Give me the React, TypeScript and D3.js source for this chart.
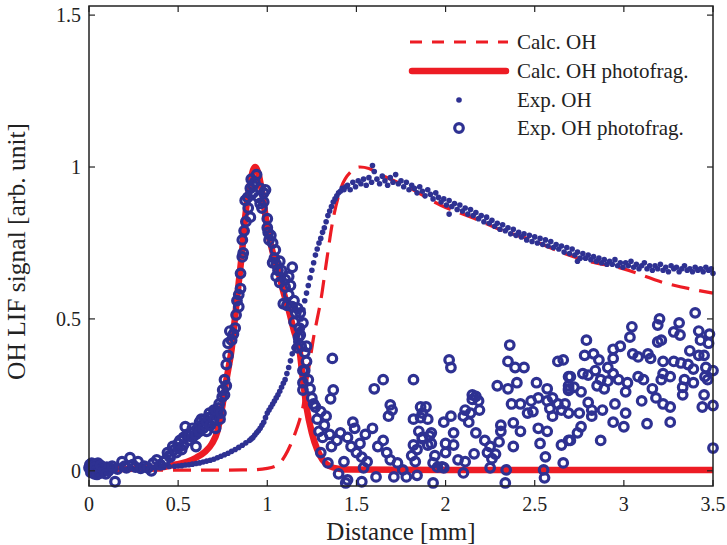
import React from "react";
import * as d3 from "d3";

const xTicks = [0, 0.5, 1, 1.5, 2, 2.5, 3, 3.5];
const yTicks = [0, 0.5, 1, 1.5];
const xDomain = [0, 3.5];
const yDomain = [-0.05, 1.53];

const legendLabels = ["Calc. OH", "Calc. OH photofrag.", "Exp. OH", "Exp. OH photofrag."];
const xLabel = "Distance [mm]";
const yLabel = "OH LIF signal [arb. unit]";

// Calc. OH (dashed)
const calcOH: [number, number][] = [
  [0, 0.002], [0.5, 0.002], [0.9, 0.003], [1.0, 0.008], [1.06, 0.02], [1.1, 0.05], [1.13, 0.085],
  [1.157, 0.125], [1.18, 0.165], [1.2, 0.21], [1.22, 0.29], [1.24, 0.365], [1.26, 0.44], [1.28, 0.5],
  [1.3, 0.56], [1.33, 0.68], [1.365, 0.815], [1.41, 0.925], [1.47, 0.985], [1.52, 1.0], [1.57, 0.995],
  [1.635, 0.975], [1.785, 0.935], [1.97, 0.875], [2.18, 0.826], [2.3, 0.795], [2.48, 0.76], [2.66, 0.717],
  [2.8, 0.69], [2.98, 0.668], [3.22, 0.62], [3.5, 0.585],
];

// Calc. OH photofrag. (solid)
const calcPhoto: [number, number][] = [
  [0, 0.004], [0.1, 0.005], [0.2, 0.006], [0.3, 0.008], [0.4, 0.011], [0.48, 0.02], [0.55, 0.03],
  [0.6, 0.043], [0.65, 0.062], [0.69, 0.09], [0.72, 0.13], [0.735, 0.17], [0.75, 0.22], [0.765, 0.28],
  [0.78, 0.33], [0.8, 0.4], [0.82, 0.51], [0.84, 0.62], [0.86, 0.73], [0.876, 0.835], [0.89, 0.9],
  [0.905, 0.95], [0.92, 0.99], [0.933, 1.0], [0.95, 0.98], [0.97, 0.92], [1.0, 0.8], [1.03, 0.72],
  [1.06, 0.66], [1.09, 0.59], [1.12, 0.53], [1.15, 0.46], [1.18, 0.4], [1.2, 0.3], [1.22, 0.21],
  [1.25, 0.125], [1.28, 0.07], [1.31, 0.036], [1.35, 0.015], [1.4, 0.007], [1.47, 0.004], [2.0, 0.003],
  [3.5, 0.003],
];

// Exp. OH (dots)
const expOH: [number, number][] = [
  [0.0, 0.005], [0.03, 0.002], [0.06, 0.006], [0.09, 0.004], [0.12, 0.007], [0.15, 0.005], [0.18, 0.008],
  [0.21, 0.006], [0.24, 0.009], [0.27, 0.008], [0.3, 0.01], [0.33, 0.009], [0.36, 0.011], [0.39, 0.012],
  [0.42, 0.012], [0.45, 0.014], [0.48, 0.015], [0.5, 0.016], [0.52, 0.017], [0.54, 0.019], [0.56, 0.02],
  [0.58, 0.022], [0.6, 0.024], [0.62, 0.026], [0.64, 0.029], [0.66, 0.032], [0.68, 0.035], [0.7, 0.038],
  [0.72, 0.043], [0.74, 0.048], [0.76, 0.053], [0.78, 0.058], [0.8, 0.064], [0.82, 0.07], [0.84, 0.077],
  [0.86, 0.084], [0.88, 0.092], [0.9, 0.1], [0.91, 0.105], [0.92, 0.11], [0.93, 0.118], [0.94, 0.125],
  [0.95, 0.132], [0.96, 0.14], [0.97, 0.15], [0.98, 0.16], [0.99, 0.175], [1.0, 0.19], [1.01, 0.2],
  [1.02, 0.21], [1.03, 0.22], [1.04, 0.23], [1.05, 0.24], [1.06, 0.25], [1.07, 0.262], [1.08, 0.275],
  [1.09, 0.288], [1.1, 0.3], [1.11, 0.32], [1.12, 0.34], [1.13, 0.362], [1.14, 0.385], [1.15, 0.405],
  [1.16, 0.425], [1.17, 0.445], [1.18, 0.465], [1.19, 0.5], [1.2, 0.53], [1.21, 0.56], [1.22, 0.585],
  [1.23, 0.61], [1.24, 0.635], [1.25, 0.66], [1.26, 0.685], [1.27, 0.71], [1.28, 0.73], [1.29, 0.75],
  [1.3, 0.765], [1.31, 0.785], [1.32, 0.8], [1.33, 0.82], [1.34, 0.84], [1.35, 0.855], [1.36, 0.87],
  [1.37, 0.885], [1.38, 0.895], [1.39, 0.905], [1.4, 0.915], [1.41, 0.92], [1.42, 0.93], [1.43, 0.925],
  [1.44, 0.935], [1.45, 0.94], [1.465, 0.925], [1.48, 0.95], [1.495, 0.935], [1.51, 0.955], [1.525, 0.945],
  [1.54, 0.96], [1.555, 0.94], [1.57, 0.965], [1.585, 0.95], [1.59, 1.005], [1.6, 0.985], [1.615, 0.96],
  [1.63, 0.945], [1.645, 0.97], [1.66, 0.955], [1.675, 0.94], [1.69, 0.965], [1.705, 0.95], [1.72, 0.975],
  [1.735, 0.945], [1.75, 0.955], [1.765, 0.935], [1.78, 0.95], [1.795, 0.925], [1.81, 0.94], [1.825, 0.93],
  [1.84, 0.915], [1.855, 0.935], [1.87, 0.92], [1.885, 0.905], [1.9, 0.925], [1.915, 0.91], [1.93, 0.895],
  [1.945, 0.915], [1.96, 0.9], [1.975, 0.885], [1.99, 0.895], [2.005, 0.875], [2.02, 0.845], [2.02, 0.89],
  [2.035, 0.87], [2.05, 0.88], [2.065, 0.86], [2.08, 0.875], [2.095, 0.855], [2.11, 0.865], [2.125, 0.845],
  [2.14, 0.86], [2.155, 0.84], [2.17, 0.85], [2.185, 0.83], [2.2, 0.84], [2.215, 0.82], [2.23, 0.835],
  [2.245, 0.815], [2.26, 0.825], [2.275, 0.805], [2.29, 0.815], [2.305, 0.795], [2.32, 0.81], [2.335, 0.79],
  [2.35, 0.8], [2.365, 0.78], [2.38, 0.795], [2.395, 0.775], [2.41, 0.785], [2.425, 0.77], [2.44, 0.78],
  [2.455, 0.76], [2.47, 0.775], [2.485, 0.755], [2.5, 0.77], [2.515, 0.75], [2.53, 0.765], [2.545, 0.745],
  [2.56, 0.76], [2.575, 0.74], [2.59, 0.755], [2.605, 0.735], [2.62, 0.745], [2.635, 0.73], [2.65, 0.74],
  [2.665, 0.72], [2.68, 0.735], [2.695, 0.715], [2.71, 0.73], [2.725, 0.71], [2.74, 0.69], [2.74, 0.72],
  [2.755, 0.7], [2.77, 0.715], [2.785, 0.7], [2.8, 0.71], [2.815, 0.695], [2.83, 0.705], [2.845, 0.69],
  [2.86, 0.7], [2.875, 0.685], [2.89, 0.695], [2.905, 0.68], [2.92, 0.69], [2.935, 0.68], [2.95, 0.695],
  [2.965, 0.675], [2.98, 0.685], [2.995, 0.67], [3.01, 0.685], [3.025, 0.675], [3.04, 0.69], [3.055, 0.67],
  [3.07, 0.68], [3.085, 0.665], [3.1, 0.675], [3.115, 0.685], [3.13, 0.665], [3.145, 0.675], [3.16, 0.66],
  [3.175, 0.675], [3.19, 0.665], [3.205, 0.68], [3.22, 0.66], [3.235, 0.67], [3.25, 0.655], [3.265, 0.675],
  [3.28, 0.665], [3.295, 0.67], [3.31, 0.655], [3.325, 0.665], [3.34, 0.675], [3.355, 0.66], [3.37, 0.665],
  [3.385, 0.655], [3.4, 0.67], [3.415, 0.66], [3.43, 0.665], [3.445, 0.655], [3.46, 0.67], [3.475, 0.66],
  [3.49, 0.665], [3.5, 0.65],
];

// Exp. OH photofrag. (open circles)
const expPhoto: [number, number][] = [
  [0.0, 0.01], [0.005, 0.02], [0.01, -0.005], [0.015, 0.025], [0.02, 0.005], [0.025, 0.015], [0.03, -0.01],
  [0.035, 0.02], [0.04, 0.0], [0.045, 0.012], [0.05, 0.025], [0.055, -0.005], [0.06, 0.01], [0.07, -0.007],
  [0.08, 0.005], [0.09, 0.003], [0.1, 0.012], [0.11, 0.0], [0.12, 0.008], [0.146, -0.036], [0.16, 0.006],
  [0.185, 0.03], [0.2, 0.015], [0.21, 0.01], [0.23, 0.043], [0.245, 0.02], [0.26, 0.012], [0.275, 0.03],
  [0.29, 0.008], [0.31, 0.015], [0.33, 0.01], [0.35, 0.0], [0.36, 0.025], [0.38, 0.036], [0.4, 0.02],
  [0.42, 0.03], [0.43, 0.036], [0.44, 0.06], [0.455, 0.045], [0.47, 0.08], [0.49, 0.06], [0.5, 0.09],
  [0.52, 0.07], [0.53, 0.11], [0.54, 0.145], [0.56, 0.1], [0.57, 0.125], [0.59, 0.13], [0.6, 0.08],
  [0.61, 0.14], [0.62, 0.16], [0.635, 0.15], [0.65, 0.17], [0.66, 0.13], [0.675, 0.19], [0.69, 0.16],
  [0.7, 0.2], [0.71, 0.14], [0.72, 0.19], [0.725, 0.207], [0.735, 0.17], [0.747, 0.243], [0.75, 0.266],
  [0.76, 0.3], [0.77, 0.35], [0.78, 0.42], [0.79, 0.46], [0.81, 0.45], [0.825, 0.513], [0.84, 0.54],
  [0.84, 0.58], [0.85, 0.65], [0.86, 0.704], [0.865, 0.717], [0.87, 0.79], [0.876, 0.89], [0.893, 0.865],
  [0.905, 0.835], [0.905, 0.93], [0.92, 0.94], [0.92, 0.915], [0.94, 0.975], [0.95, 0.9], [0.97, 0.865],
  [0.98, 0.915], [0.98, 0.885], [0.99, 0.925], [1.0, 0.8], [1.005, 0.785], [1.02, 0.775], [1.03, 0.75],
  [1.045, 0.727], [1.03, 0.685], [1.05, 0.68], [1.07, 0.69], [1.06, 0.66], [1.14, 0.67], [1.05, 0.64],
  [1.07, 0.62], [1.1, 0.63], [1.13, 0.61], [1.1, 0.605], [1.12, 0.58], [1.09, 0.55], [1.11, 0.545],
  [1.14, 0.54], [1.17, 0.535], [1.185, 0.52], [1.15, 0.49], [1.2, 0.487], [1.175, 0.44], [1.185, 0.447],
  [1.17, 0.405], [1.19, 0.41], [1.22, 0.41], [1.21, 0.39], [1.2, 0.33], [1.21, 0.33], [1.2, 0.29],
  [1.2, 0.266], [1.25, 0.24], [1.27, 0.21], [1.3, 0.195], [1.33, 0.18], [1.29, 0.13], [1.31, 0.11],
  [1.3, 0.06], [1.34, 0.026], [1.365, 0.37], [1.37, 0.266], [1.355, 0.237], [1.39, 0.1], [1.41, 0.125],
  [1.45, 0.11], [1.47, 0.08], [1.43, 0.03], [1.4, -0.01], [1.5, 0.06], [1.53, 0.045], [1.56, 0.03],
  [1.54, 0.01], [1.61, -0.02], [1.45, -0.03], [1.44, -0.04], [1.53, -0.036], [1.48, 0.16], [1.49, 0.14],
  [1.59, 0.14], [1.55, 0.12], [1.52, 0.09], [1.65, 0.3], [1.6, 0.27], [1.82, 0.3], [1.69, 0.217],
  [1.7, 0.2], [1.68, 0.18], [1.82, 0.17], [1.86, 0.21], [1.87, 0.19], [1.86, 0.175], [1.65, 0.1],
  [1.62, 0.08], [1.67, 0.06], [1.85, 0.13], [1.87, 0.105], [1.91, 0.115], [1.9, 0.085], [1.84, 0.07],
  [1.82, 0.085], [1.81, 0.05], [1.83, 0.03], [1.71, -0.02], [1.76, 0.003], [1.78, -0.02], [1.84, -0.015],
  [1.69, 0.036], [1.73, 0.026], [1.93, -0.04], [1.99, 0.01],
  [0.015, 0.0], [0.03, 0.01], [0.045, -0.012], [0.065, 0.018], [0.095, -0.01], [0.13, 0.015],
  [0.45, 0.05], [0.48, 0.07], [0.5, 0.075], [0.51, 0.1], [0.53, 0.085], [0.55, 0.12], [0.56, 0.115],
  [0.58, 0.11], [0.58, 0.14], [0.6, 0.12], [0.62, 0.13], [0.63, 0.17], [0.64, 0.14], [0.66, 0.16],
  [0.67, 0.175], [0.68, 0.15], [0.7, 0.17], [0.71, 0.2], [0.73, 0.22], [0.74, 0.19], [0.76, 0.25],
  [0.77, 0.28], [0.78, 0.38], [0.8, 0.43], [0.82, 0.47], [0.83, 0.56], [0.85, 0.6], [0.86, 0.76],
  [0.88, 0.82], [0.89, 0.9], [0.91, 0.96], [0.93, 0.95], [0.96, 0.93], [0.96, 0.88], [1.0, 0.83],
  [1.01, 0.76], [1.04, 0.7], [1.08, 0.66], [1.12, 0.64], [1.15, 0.56], [1.16, 0.52], [1.18, 0.47],
  [1.22, 0.36], [1.23, 0.3], [1.24, 0.27], [1.26, 0.22], [1.28, 0.17], [1.32, 0.15], [1.35, 0.12],
  [1.36, 0.08],
  [2.36, 0.414], [2.02, 0.365], [2.03, 0.34], [2.35, 0.36], [2.39, 0.34], [2.44, 0.34], [2.63, 0.36],
  [2.51, 0.29], [2.4, 0.29], [2.29, 0.28], [2.35, 0.27], [2.15, 0.25], [2.17, 0.245], [2.15, 0.235],
  [2.185, 0.23], [2.11, 0.2], [2.14, 0.19], [2.19, 0.2], [2.1, 0.18], [2.13, 0.16], [2.03, 0.18],
  [1.99, 0.16], [1.89, 0.21], [1.9, 0.17], [1.87, 0.11], [1.92, 0.125], [1.92, 0.09], [2.045, 0.125],
  [2.0, 0.09], [2.045, 0.085], [2.0, 0.06], [1.94, 0.05], [1.93, 0.026], [1.98, 0.013], [1.955, 0.012],
  [2.07, 0.036], [2.11, 0.03], [2.1, -0.007], [2.16, 0.056], [2.17, 0.125], [2.22, 0.1], [2.25, 0.08],
  [2.235, 0.06], [2.28, 0.055], [2.26, 0.04], [2.31, 0.15], [2.31, 0.13], [2.3, 0.095], [2.25, 0.01],
  [2.34, 0.003], [2.335, -0.04], [2.38, 0.08], [2.38, 0.158], [2.42, 0.13], [2.46, 0.19], [2.49, 0.195],
  [2.42, 0.22], [2.48, 0.23], [2.52, 0.24], [2.37, 0.22], [2.57, 0.27], [2.57, 0.23], [2.6, 0.24],
  [2.585, 0.205], [2.63, 0.22], [2.65, 0.2], [2.6, 0.18], [2.52, 0.14], [2.57, 0.13], [2.53, 0.09],
  [2.56, 0.046], [2.55, 0.003], [2.555, -0.023], [2.65, 0.085], [2.66, 0.026], [2.69, 0.31], [2.69, 0.28],
  [2.69, 0.27], [2.69, 0.1],
  [3.4, 0.52], [3.2, 0.5], [3.19, 0.48], [3.31, 0.487], [3.28, 0.457], [3.315, 0.447], [3.42, 0.46],
  [3.48, 0.45], [3.475, 0.42], [3.43, 0.43], [3.045, 0.474], [3.034, 0.44], [2.79, 0.43], [3.19, 0.424],
  [3.21, 0.43], [2.94, 0.4], [2.98, 0.41], [3.05, 0.385], [3.08, 0.375], [3.135, 0.385], [3.15, 0.37],
  [3.22, 0.36], [2.78, 0.38], [2.83, 0.385], [2.86, 0.365], [2.94, 0.37], [3.37, 0.395], [3.42, 0.38],
  [3.45, 0.38], [3.28, 0.36], [3.32, 0.355], [3.36, 0.35], [3.39, 0.335], [3.46, 0.34], [3.5, 0.33],
  [2.66, 0.365], [2.84, 0.33], [2.91, 0.34], [2.94, 0.32], [2.77, 0.32], [2.8, 0.315], [2.7, 0.31],
  [2.87, 0.3], [2.91, 0.295], [2.97, 0.3], [3.02, 0.29], [3.08, 0.31], [3.11, 0.3], [3.22, 0.32],
  [3.26, 0.31], [3.21, 0.3], [3.34, 0.3], [3.33, 0.275], [3.39, 0.29], [3.47, 0.3], [3.455, 0.31],
  [3.16, 0.27], [3.18, 0.24], [3.01, 0.26], [2.89, 0.27], [2.85, 0.28], [2.72, 0.275], [2.76, 0.26],
  [2.69, 0.265], [3.33, 0.25], [3.45, 0.25], [3.1, 0.23], [2.95, 0.22], [2.8, 0.225], [3.22, 0.22],
  [3.26, 0.21], [3.44, 0.21], [3.5, 0.215], [2.67, 0.22], [2.69, 0.19], [2.75, 0.19], [2.82, 0.2],
  [2.82, 0.18], [2.88, 0.2], [3.01, 0.19], [2.94, 0.16], [3.0, 0.145], [3.13, 0.155], [3.26, 0.16],
  [2.76, 0.145], [2.74, 0.125], [2.7, 0.1], [2.87, 0.1], [3.5, 0.075],
];

const RED = "#ed1c24";
const BLUE = "#2e3192";
const FONT = "'Liberation Serif', 'Times New Roman', serif";

export default function App() {
  const W = 727, H = 545;
  const L = 89, R = 713, T = 6, B = 486;
  const x = d3.scaleLinear().domain(xDomain).range([L, R]);
  const y = d3.scaleLinear().domain(yDomain).range([B, T]);
  const line = d3.line<[number, number]>().x((d) => x(d[0])).y((d) => y(d[1])).curve(d3.curveMonotoneX);
  const fmt = (v: number) => String(v);
  const tickLen = 6;
  const legendY = [42, 71, 100, 128];
  const ringR = 4.3;
  const ringW = 3.2;
  const dotR = 2.8;

  return (
    <svg width={W} height={H} style={{ position: "absolute", left: 0, top: 0, background: "#fff" }} fontFamily={FONT}>
      <rect x={0} y={0} width={W} height={H} fill="#fff" />
      {/* data */}
      <path d={line(calcOH) || ""} fill="none" stroke={RED} strokeWidth={3.2} strokeDasharray="18 10" />
      <path d={line(calcPhoto) || ""} fill="none" stroke={RED} strokeWidth={6.5} strokeLinejoin="round" />
      <g fill={BLUE}>
        {expOH.map((d, i) => (
          <circle key={i} cx={x(d[0])} cy={y(d[1])} r={dotR} />
        ))}
      </g>
      <g fill="none" stroke={BLUE} strokeWidth={ringW}>
        {expPhoto.map((d, i) => (
          <circle key={i} cx={x(d[0])} cy={y(d[1])} r={ringR} />
        ))}
      </g>
      {/* axes box */}
      <rect x={L} y={T} width={R - L} height={B - T} fill="none" stroke="#222" strokeWidth={1.5} />
      {xTicks.map((t) => (
        <g key={"x" + t}>
          <line x1={x(t)} x2={x(t)} y1={B} y2={B - tickLen} stroke="#222" strokeWidth={1.2} />
          <line x1={x(t)} x2={x(t)} y1={T} y2={T + tickLen} stroke="#222" strokeWidth={1.2} />
          <text x={x(t)} y={511} textAnchor="middle" fontSize={20} fill="#222">{fmt(t)}</text>
        </g>
      ))}
      {yTicks.map((t) => (
        <g key={"y" + t}>
          <line x1={L} x2={L + tickLen} y1={y(t)} y2={y(t)} stroke="#222" strokeWidth={1.2} />
          <line x1={R} x2={R - tickLen} y1={y(t)} y2={y(t)} stroke="#222" strokeWidth={1.2} />
          <text x={81} y={y(t) + 7} textAnchor="end" fontSize={20} fill="#222">{fmt(t)}</text>
        </g>
      ))}
      <text x={(L + R) / 2} y={540} textAnchor="middle" fontSize={25} fill="#222">{xLabel}</text>
      <text transform={`translate(25, 380) rotate(-90)`} textAnchor="start" fontSize={25.5} fill="#222">{yLabel}</text>
      {/* legend */}
      <g>
        <line x1={410} x2={508} y1={legendY[0]} y2={legendY[0]} stroke={RED} strokeWidth={3.2} strokeDasharray="12 10" />
        <line x1={412} x2={506} y1={legendY[1]} y2={legendY[1]} stroke={RED} strokeWidth={6.5} strokeLinecap="round" />
        <circle cx={459} cy={legendY[2]} r={dotR} fill={BLUE} />
        <circle cx={459} cy={legendY[3]} r={ringR} fill="none" stroke={BLUE} strokeWidth={ringW} />
        {legendLabels.map((s, i) => (
          <text key={s} x={517} y={legendY[i] + 7} fontSize={21} fill="#222">{s}</text>
        ))}
      </g>
    </svg>
  );
}
